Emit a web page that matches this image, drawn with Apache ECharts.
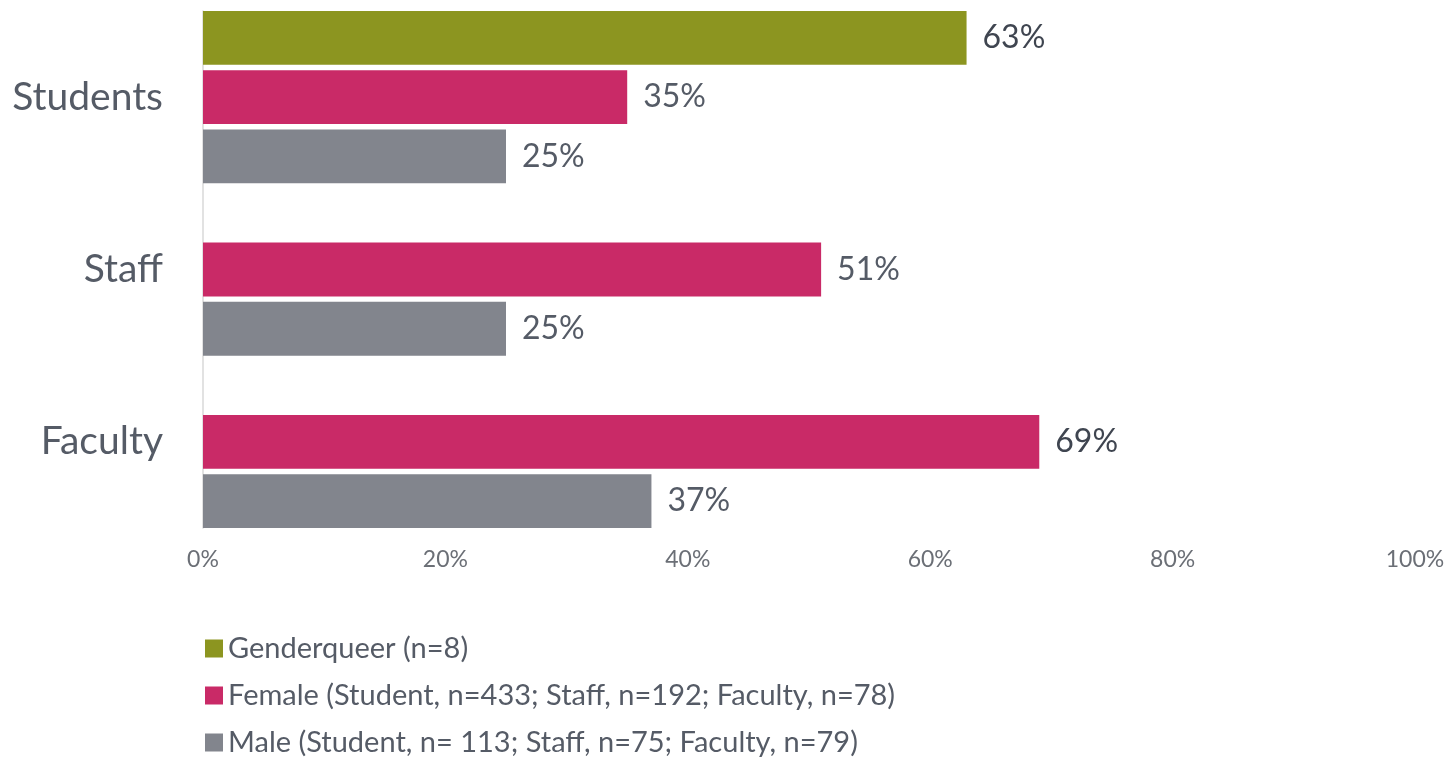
<!DOCTYPE html>
<html>
<head>
<meta charset="utf-8">
<script src="https://cdn.jsdelivr.net/npm/echarts@6/dist/echarts.min.js"></script>
<style>
  html, body { margin: 0; padding: 0; background: #fff; }
  #chart { width: 1448px; height: 758px; }
</style>
</head>
<body>
<div id="chart"></div>
<script>
// 数据
const categories = ['Students', 'Staff', 'Faculty'];
const seriesNames = [
  'Genderqueer (n=8)',
  'Female (Student, n=433; Staff, n=192; Faculty, n=78)',
  'Male (Student, n= 113; Staff, n=75; Faculty, n=79)'
];
const genderqueer = [63, null, null];
const female = [35, 51, 69];
const male = [25, 25, 37];
const xTicks = [0, 20, 40, 60, 80, 100];

const FONT = 'Lato';
const TEXT = '#555b66';
const colors = ['#8C9520', '#C92A67', '#82858D'];
// 图例每行的纵向位置
const legendTops = [634, 681, 728];

const chart = echarts.init(document.getElementById('chart'));

function makeSeries(name, data, color) {
  return {
    name: name,
    type: 'bar',
    barGap: '10%',
    barCategoryGap: '0%',
    itemStyle: { color: color },
    label: {
      show: true,
      position: 'right',
      distance: 16,
      fontFamily: FONT,
      fontSize: 32,
      color: TEXT,
      formatter: p => p.value + '%'
    },
    data: data.map(v => {
      if (v == null) return null;
      // 最大的两个数值颜色稍深
      const strong = v === 63 || v === 69;
      return { value: v, label: { color: strong ? '#3f4550' : TEXT } };
    })
  };
}

const options = {
  animation: false,
  grid: { left: 203, right: 33, top: 11, bottom: 230 },
  legend: seriesNames.map((n, i) => ({
    orient: 'vertical',
    left: 205,
    top: legendTops[i],
    padding: 0,
    itemWidth: 18,
    itemHeight: 18,
    itemGap: 8,
    icon: 'rect',
    textStyle: { fontFamily: FONT, fontSize: 29, color: TEXT },
    data: [n]
  })),
  xAxis: {
    type: 'value',
    min: 0,
    max: 100,
    interval: 20,
    axisLine: { show: false },
    axisTick: { show: false },
    splitLine: { show: false },
    axisLabel: {
      margin: 20,
      fontFamily: FONT,
      fontSize: 23,
      color: '#6b6f76',
      formatter: v => xTicks.includes(v) ? v + '%' : ''
    }
  },
  yAxis: {
    type: 'category',
    inverse: true,
    data: categories,
    axisLine: { lineStyle: { color: '#d9d9d9', width: 1.5 } },
    axisTick: { show: false },
    axisLabel: {
      margin: 40,
      fontFamily: FONT,
      fontSize: 39,
      color: TEXT
    }
  },
  series: [
    makeSeries(seriesNames[0], genderqueer, colors[0]),
    makeSeries(seriesNames[1], female, colors[1]),
    makeSeries(seriesNames[2], male, colors[2])
  ]
};

chart.setOption(options);
</script>
</body>
</html>
